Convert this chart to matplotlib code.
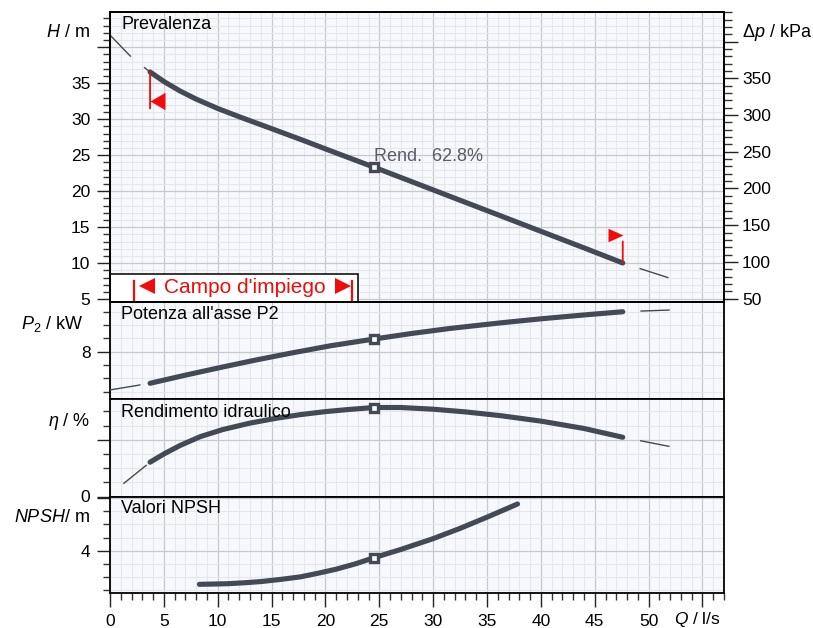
import matplotlib
matplotlib.use("Agg")
import matplotlib.pyplot as plt
from matplotlib.ticker import MultipleLocator, FixedLocator, FuncFormatter
from matplotlib.transforms import offset_copy
from matplotlib.patches import Rectangle

plt.rcParams['font.family'] = ['Liberation Sans', 'DejaVu Sans']
plt.rcParams['mathtext.fontset'] = 'custom'
plt.rcParams['mathtext.rm'] = 'Liberation Sans'
plt.rcParams['mathtext.it'] = 'Liberation Sans:italic'
plt.rcParams['mathtext.bf'] = 'Liberation Sans:bold'
plt.rcParams['lines.scale_dashes'] = False

# ---------------- data ----------------
Q_H = [3.72, 5.0, 6.5, 8.0, 10.0, 12.0, 14.6, 17.7, 21.0, 24.5, 28.0, 32.0, 36.0, 40.0, 44.0, 47.6]
H_vals = [36.57, 35.25, 33.93, 32.8, 31.5, 30.35, 28.92, 27.2, 25.32, 23.35, 21.34, 19.04, 16.74, 14.44, 12.14, 10.04]
Q_H_ext_left = [0.0, 2.0, 3.72]
H_ext_left = [41.7, 38.6, 36.57]
Q_H_ext_right = [47.6, 51.9]
H_ext_right = [10.04, 7.96]

Q_P = [3.72, 7.0, 10.56, 13.5, 16.76, 20.5, 24.5, 28.0, 31.6, 36.3, 40.0, 44.0, 47.6]
P_vals = [5.63, 6.24, 6.87, 7.37, 7.89, 8.45, 8.95, 9.37, 9.75, 10.17, 10.47, 10.76, 11.0]
Q_P_ext_left = [0.0, 3.72]
P_ext_left = [5.13, 5.63]
Q_P_ext_right = [47.6, 51.95]
P_ext_right = [11.0, 11.13]

Q_E = [3.72, 5.0, 6.5, 8.4, 10.5, 13.0, 15.5, 17.7, 20.0, 22.0, 24.5, 27.0, 30.0, 33.0, 36.3, 40.0, 44.0, 47.6]
E_vals = [24.2, 30.0, 36.0, 42.3, 47.3, 51.8, 55.3, 57.8, 59.9, 61.3, 62.8, 62.8, 61.6, 59.7, 57.0, 53.2, 48.0, 41.8]
Q_E_ext_left = [1.24, 3.72]
E_ext_left = [9.0, 24.2]
Q_E_ext_right = [47.6, 51.95]
E_ext_right = [41.8, 35.3]

Q_N = [8.3, 9.5, 11.0, 12.5, 14.0, 15.8, 17.7, 19.3, 21.0, 22.8, 24.5, 27.0, 30.0, 32.5, 35.0, 37.83]
N_vals = [1.45, 1.47, 1.5, 1.57, 1.66, 1.82, 2.02, 2.29, 2.6, 3.01, 3.47, 4.1, 4.92, 5.7, 6.55, 7.55]

Q_op = 24.5
H_op, P_op, E_op, N_op = 23.35, 8.95, 62.8, 3.47
rend_text = "Rend.  62.8%"

x_ticks = [0, 5, 10, 15, 20, 25, 30, 35, 40, 45, 50]
H_labels = [5, 10, 15, 20, 25, 30, 35]
kPa_labels = [50, 100, 150, 200, 250, 300, 350]

# ---------------- figure ----------------
W, HH = 813, 628
fig = plt.figure(figsize=(W / 100, HH / 100), dpi=100)

CURVE = '#434a55'
RED = '#f00c0c'
FACE = '#f7f8fb'


def panel(top, bottom):
    return fig.add_axes([110 / W, 1 - bottom / HH, 614 / W, (bottom - top) / HH])


def ftext(x, y, s, **kw):
    return fig.text(x / W, 1 - y / HH, s, **kw)


def style(ax, ylim, major, minor_step, labels, bottom_axis=False):
    ax.set_xlim(0, 57)
    ax.set_ylim(*ylim)
    ax.set_facecolor(FACE)
    ax.xaxis.set_major_locator(MultipleLocator(5))
    ax.xaxis.set_minor_locator(MultipleLocator(1))
    ax.yaxis.set_major_locator(FixedLocator(major))
    ax.yaxis.set_minor_locator(MultipleLocator(minor_step))
    ax.yaxis.set_major_formatter(FuncFormatter(
        lambda v, p: str(int(round(v))) if any(abs(v - l) < 1e-6 for l in labels) else ''))
    ax.grid(which='minor', color='#e6e7ec', lw=0.8)
    ax.grid(which='major', color='#c8c9ce', lw=0.9)
    ax.set_axisbelow(True)
    ax.tick_params(axis='y', which='major', length=9.6, width=1.0, direction='out',
                   pad=4.5, labelsize=12.5, color='#222222')
    ax.tick_params(axis='y', which='minor', length=5.3, width=1.0, direction='out',
                   color='#333333')
    if bottom_axis:
        ax.tick_params(axis='x', which='major', length=10.3, width=1.0, direction='out',
                       pad=5.0, labelsize=12.5, color='#222222')
        ax.tick_params(axis='x', which='minor', length=5.3, width=1.0, direction='out',
                       color='#333333')
    else:
        ax.tick_params(axis='x', which='both', bottom=False, labelbottom=False)
    for s in ax.spines.values():
        s.set_linewidth(1.3)
        s.set_color('black')


ax1 = panel(12, 301.5)
ax2 = panel(301.5, 399)
ax3 = panel(399, 496.5)
ax4 = panel(496.5, 592.5)

style(ax1, (4.69, 44.9), list(range(5, 50, 5)), 1, H_labels)
style(ax2, (4.45, 11.77), [4, 8, 12], 1, [8])
style(ax3, (0, 68.8), [0, 40, 80], 10, [0])
style(ax4, (0.83, 8.12), [0, 4, 8], 1, [4], bottom_axis=True)
ax4.xaxis.set_major_formatter(FuncFormatter(
    lambda v, p: str(int(round(v))) if int(round(v)) in x_ticks else ''))

# right axis kPa
ax1r = ax1.twinx()
ax1r.set_ylim(4.69 * 9.81, 44.9 * 9.81)
ax1r.yaxis.set_major_locator(MultipleLocator(50))
ax1r.yaxis.set_minor_locator(MultipleLocator(10))
ax1r.yaxis.set_major_formatter(FuncFormatter(
    lambda v, p: str(int(round(v))) if int(round(v)) in kPa_labels else ''))
ax1r.tick_params(axis='y', which='major', length=10, width=1.0, direction='out',
                 pad=3.0, labelsize=12.5, color='#222222')
ax1r.tick_params(axis='y', which='minor', length=6, width=1.0, direction='out',
                 color='#333333')
for s in ax1r.spines.values():
    s.set_linewidth(1.3)

# ---------------- curves ----------------
thick = dict(color=CURVE, lw=3.7, solid_capstyle='round', solid_joinstyle='round', zorder=4)
thin = dict(color=CURVE, lw=1.0, zorder=3)
sq = dict(marker='s', ms=5.8, mew=2.4, mfc='white', mec=CURVE, ls='none', zorder=6)

ax1.plot(Q_H, H_vals, **thick)
ax1.plot(Q_H_ext_left, H_ext_left, ls=(0, (21.6, 12.2)), **thin)
ax1.plot(Q_H_ext_right, H_ext_right, ls=(21.9, (21.9, 12.7)), **thin)
ax1.plot([Q_op], [H_op], **sq)

ax2.plot(Q_P, P_vals, **thick)
ax2.plot(Q_P_ext_left, P_ext_left, ls=(0, (22.3, 6.5)), **thin)
ax2.plot(Q_P_ext_right, P_ext_right, ls=(21.2, (21.2, 12.7)), **thin)
ax2.plot([Q_op], [P_op], **sq)

ax3.plot(Q_E, E_vals, **thick)
ax3.plot(Q_E_ext_left, E_ext_left, ls=(0, (21.6, 3.6)), **thin)
ax3.plot(Q_E_ext_right, E_ext_right, ls=(21.6, (21.6, 12.7)), **thin)
ax3.plot([Q_op], [E_op], **sq)

ax4.plot(Q_N, N_vals, **thick)
ax4.plot([Q_op], [N_op], **sq)

ax1.annotate(rend_text, xy=(Q_op, H_op), xytext=(0, 4.5), textcoords='offset points',
             ha='left', va='baseline', fontsize=13, color='#585d68', zorder=7)

# operating range limits (red flags)
left_tri = [(0, 0), (1, 0.58), (1, -0.58), (0, 0)]
right_tri = [(0, 0), (-1, 0.45), (-1, -0.45), (0, 0)]
ax1.annotate('', xy=(Q_H[0], H_vals[0]), xytext=(0, -26.3), textcoords='offset points',
             arrowprops=dict(arrowstyle='-', color=RED, lw=1.3, shrinkA=0, shrinkB=0), zorder=5)
ax1.plot([Q_H[0]], [H_vals[0]], marker=left_tri, ms=21.6, color=RED, mew=0, ls='none',
         transform=offset_copy(ax1.transData, fig=fig, x=0, y=-21.2, units='points'), zorder=5)
ax1.annotate('', xy=(Q_H[-1], H_vals[-1]), xytext=(0, 15.5), textcoords='offset points',
             arrowprops=dict(arrowstyle='-', color=RED, lw=1.3, shrinkA=0, shrinkB=0), zorder=5)
ax1.plot([Q_H[-1]], [H_vals[-1]], marker=right_tri, ms=21.6, color=RED, mew=0, ls='none',
         transform=offset_copy(ax1.transData, fig=fig, x=0.4, y=20.4, units='points'), zorder=5)

# "Campo d'impiego" box
ax_w, ax_h = 614.0, 289.5
ax1.add_patch(Rectangle((0, 0), (358.3 - 110) / ax_w, (301.5 - 274) / ax_h,
                        transform=ax1.transAxes, facecolor='white', edgecolor='black',
                        lw=1.1, zorder=8, clip_on=False))
for xb in (134.3, 352.3):
    ax1.plot([(xb - 110) / ax_w] * 2, [(301.5 - 300.7) / ax_h, (301.5 - 280.5) / ax_h],
             transform=ax1.transAxes, color=RED, lw=1.6, zorder=9, clip_on=False)
ax1.plot([(147 - 110) / ax_w], [(301.5 - 286.3) / ax_h], marker='<', ms=11.5, color=RED,
         mew=0, transform=ax1.transAxes, zorder=9, clip_on=False)
ax1.plot([(342.7 - 110) / ax_w], [(301.5 - 286.3) / ax_h], marker='>', ms=11.5, color=RED,
         mew=0, transform=ax1.transAxes, zorder=9, clip_on=False)
ftext(245.0, 293.3, "Campo d'impiego", ha='center', va='baseline', fontsize=15, color=RED,
      zorder=10)

# panel titles
ftext(121, 29.3, "Prevalenza", ha='left', va='baseline', fontsize=13)
ftext(121, 319.3, "Potenza all'asse P2", ha='left', va='baseline', fontsize=13)
ftext(121, 416.7, "Rendimento idraulico", ha='left', va='baseline', fontsize=13, zorder=10)
ftext(121, 513.3, "Valori NPSH", ha='left', va='baseline', fontsize=13)

# axis unit labels
ftext(90, 36.7, "$H$ / m", ha='right', va='baseline', fontsize=13)
ftext(83, 329, r"$P_{\mathrm{2}}$ / kW", ha='right', va='baseline', fontsize=13)
ftext(90, 426, "$η$ / %", ha='right', va='baseline', fontsize=13)
ftext(90, 521.7, "$NPSH$/ m", ha='right', va='baseline', fontsize=13)
ftext(742.3, 36.7, "Δ$p$ / kPa", ha='left', va='baseline', fontsize=13)
ftext(697, 624.0, "$Q$ / l/s", ha='center', va='baseline', fontsize=12.5)

fig.savefig("out.png", dpi=100, facecolor='white')
